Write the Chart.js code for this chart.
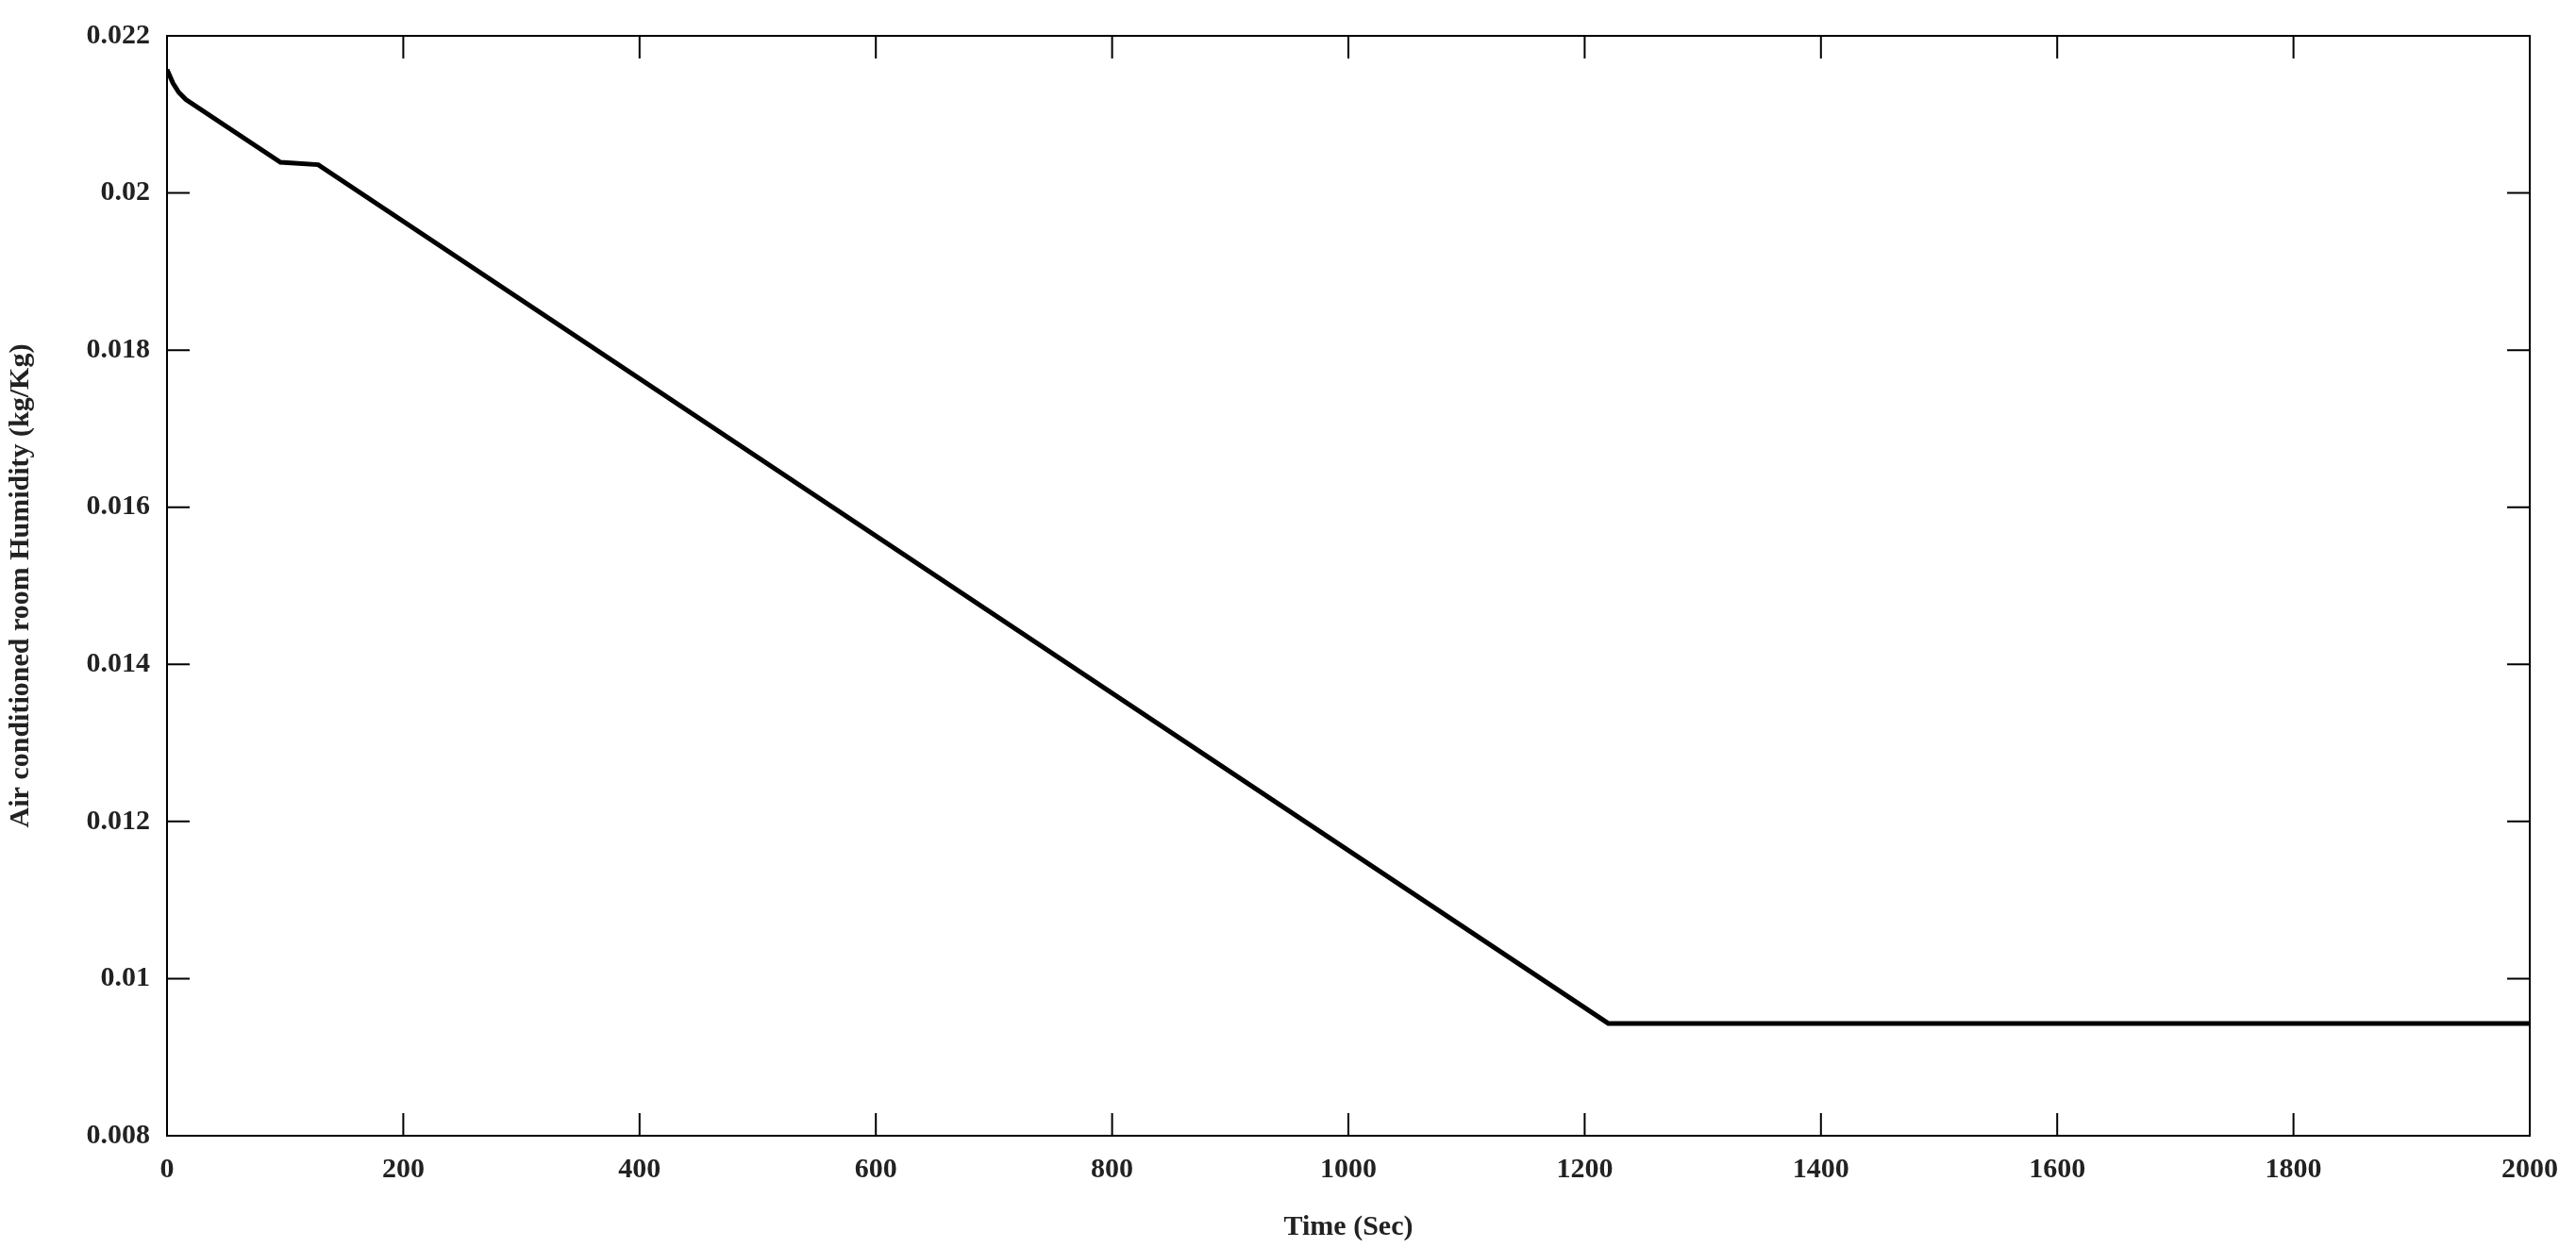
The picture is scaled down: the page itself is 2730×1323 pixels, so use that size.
<!DOCTYPE html>
<html><head><meta charset="utf-8">
<script src="https://cdn.jsdelivr.net/npm/chart.js@4"></script>
<style>html,body{margin:0;padding:0;background:#fff}#c{display:block}</style>
</head><body>
<canvas id="c" width="2730" height="1323"></canvas>
<script>
const timeSec = [0, 5, 10, 16, 96, 128, 1220, 2000];
const humidity = [0.02157, 0.02140, 0.02128, 0.02119, 0.02039, 0.02036, 0.00943, 0.00943];
const xTicks = [0,200,400,600,800,1000,1200,1400,1600,1800,2000];
const yTicks = [0.008,0.01,0.012,0.014,0.016,0.018,0.02,0.022];
const font = {family:'"Liberation Serif", "Times New Roman", serif', weight:'bold', size:30};

const innerTicks = {
  id:'innerTicks',
  afterDraw(chart){
    const {ctx, chartArea:a, scales:{x,y}} = chart;
    ctx.save(); ctx.strokeStyle='#000'; ctx.lineWidth=2;
    ctx.strokeRect(a.left, a.top, a.right-a.left, a.bottom-a.top);
    const L=24;
    ctx.beginPath();
    xTicks.forEach(v=>{const p=x.getPixelForValue(v);
      ctx.moveTo(p,a.bottom);ctx.lineTo(p,a.bottom-L);ctx.moveTo(p,a.top);ctx.lineTo(p,a.top+L);});
    yTicks.forEach(v=>{const p=y.getPixelForValue(v);
      ctx.moveTo(a.left,p);ctx.lineTo(a.left+L,p);ctx.moveTo(a.right,p);ctx.lineTo(a.right-L,p);});
    ctx.stroke(); ctx.restore();
  }
};

new Chart(document.getElementById('c'), {
  type:'line',
  data:{datasets:[{data:timeSec.map((t,i)=>({x:t,y:humidity[i]})), borderColor:'#000', borderWidth:5, pointRadius:0, tension:0, fill:false}]},
  options:{
    responsive:false, animation:false,
    layout:{padding:{left:0,top:38,right:49,bottom:0}},
    plugins:{legend:{display:false}, tooltip:{enabled:false}},
    scales:{
      x:{type:'linear', min:0, max:2000,
        afterBuildTicks(s){s.ticks=xTicks.map(v=>({value:v}));},
        afterFit(s){s.height=119;},
        grid:{display:false}, border:{display:false},
        ticks:{color:'#222', font, padding:10, maxRotation:0, callback:v=>String(v)},
        title:{display:true, text:'Time (Sec)', color:'#222', font, padding:{top:0}}},
      y:{type:'linear', min:0.008, max:0.022,
        afterBuildTicks(s){s.ticks=yTicks.map(v=>({value:v}));},
        afterFit(s){s.width=177;},
        grid:{display:false}, border:{display:false},
        ticks:{color:'#222', font, padding:10, callback:v=>String(parseFloat(v.toFixed(3)))},
        title:{display:true, text:'Air conditioned room Humidity (kg/Kg)', color:'#222', font, padding:{bottom:4}}}
    }
  },
  plugins:[innerTicks]
});
</script>
</body></html>
